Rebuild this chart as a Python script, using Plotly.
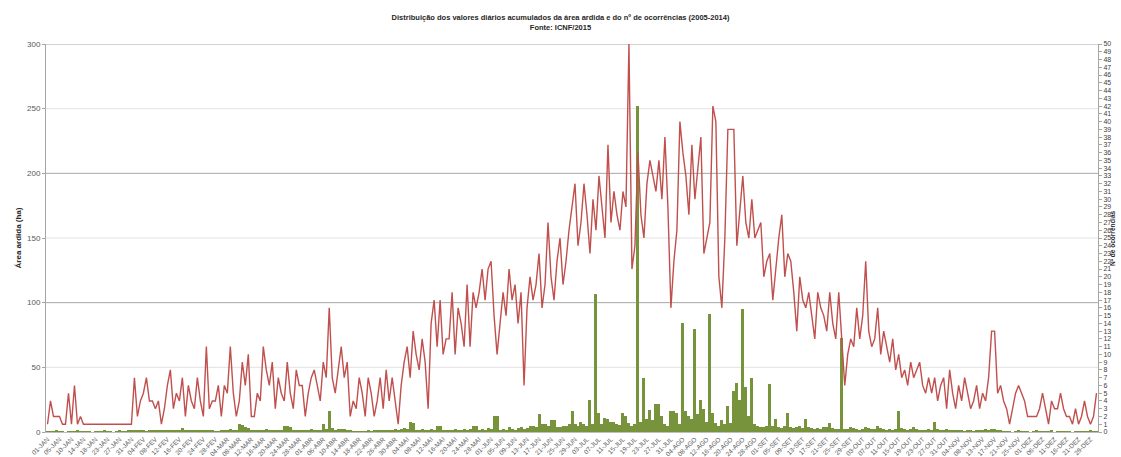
import plotly.graph_objects as go

# Calendar (non-leap year); days without any record are absent from the series
months = ["JAN", "FEV", "MAR", "ABR", "MAI", "JUN", "JUL", "AGO", "SET", "OUT", "NOV", "DEZ"]
month_days = [31, 28, 31, 30, 31, 30, 31, 31, 30, 31, 30, 31]
no_record_days = ["08-JAN", "21-JAN", "03-ABR", "11-NOV", "27-NOV", "29-NOV", "03-DEZ",
                  "09-DEZ", "14-DEZ", "18-DEZ", "22-DEZ", "24-DEZ", "25-DEZ", "27-DEZ"]

days = [f"{d:02d}-{m}" for m, n in zip(months, month_days) for d in range(1, n + 1)
        if f"{d:02d}-{m}" not in no_record_days]

# Accumulated burnt area per day (ha), 2005-2014
area = [
    0.5, 0.6, 0.4, 0.8, 0.5, 0.3, 0, 0.6, 0.7, 0.5, 0.9, 0.6, 0.4, 0.5, 0.7, 0, 0.5, 0.6, 0.4, 0.8,
    0.6, 0.5, 0, 0.7, 0.8, 0.6, 0.5, 0.9, 1.0, 0.8, 1.2, 0.9, 1.1, 0.7, 1.4, 1.0, 0.9, 1.3, 1.1, 0.8,
    1.5, 1.2, 1.8, 1.0, 1.6, 3.0, 1.4, 1.1, 0.9, 1.6, 1.2, 1.0, 1.3, 0.9, 0.8, 1.1, 0.7, 0.6, 1.0, 0.9,
    1.5, 2.0, 1.2, 1.0, 6.0, 5.5, 3.5, 3.0, 1.0, 0.8, 1.2, 0.9, 1.0, 2.0, 1.1, 0.9, 1.3, 1.0, 1.8, 4.5,
    4.5, 4.0, 1.2, 1.0, 1.5, 0.9, 1.3, 1.1, 2.0, 1.6, 1.2, 1.8, 6.0, 2.5, 16.5, 3.0, 1.4, 2.5, 2.0, 2.5,
    1.0, 0.8, 0.5, 0.6, 0.4, 0.5, 0.6, 0.9, 0.7, 1.0, 0.8, 1.1, 0.9, 1.5, 1.2, 1.8, 2.0, 1.6, 2.5, 3.0,
    2.0, 7.5, 7.0, 1.8, 1.5, 2.0, 1.2, 1.8, 2.2, 1.5, 5.0, 5.0, 1.3, 1.0, 1.8, 1.4, 2.2, 1.2, 1.6, 2.5,
    1.5, 2.0, 5.0, 5.0, 1.5, 2.5, 1.8, 3.0, 2.0, 12.0, 12.5, 1.5, 2.5, 1.8, 3.5, 2.0, 1.8, 3.0, 4.0, 2.5,
    3.0, 4.5, 5.0, 3.5, 14.0, 6.0, 6.5, 5.0, 9.0, 9.0, 4.0, 3.5, 5.0, 4.5, 6.0, 16.0, 6.0, 5.0, 8.0, 6.5,
    5.0, 25.0, 6.0, 107.0, 15.0, 6.0, 11.0, 10.0, 8.0, 8.0, 6.0, 5.5, 15.0, 12.0, 7.0, 5.0, 6.0, 252.0, 8.0, 42.0,
    10.0, 17.0, 9.0, 22.0, 22.0, 12.0, 6.0, 5.0, 16.0, 16.0, 15.0, 6.0, 84.0, 16.0, 12.0, 10.0, 80.0, 14.0, 25.0, 18.0,
    8.0, 91.0, 15.0, 7.0, 5.0, 9.0, 6.0, 20.0, 7.0, 32.0, 38.0, 25.0, 95.0, 35.0, 12.0, 42.0, 6.0, 5.0, 4.0, 3.5,
    5.0, 37.0, 5.0, 10.0, 4.0, 3.0, 4.5, 15.0, 4.0, 3.0, 3.5, 5.0, 3.0, 10.0, 4.0, 3.0, 2.5, 3.0, 2.0, 3.5,
    4.0, 7.0, 3.0, 2.0, 2.5, 73.0, 2.0, 2.5, 3.5, 3.0, 2.0, 1.5, 2.5, 3.5, 3.0, 2.0, 2.5, 5.0, 3.0, 2.0,
    1.5, 2.0, 1.8, 2.5, 16.0, 3.0, 2.0, 1.5, 2.0, 4.0, 2.0, 1.5, 1.2, 1.8, 2.0, 1.5, 8.0, 2.5, 1.5, 1.0,
    2.0, 1.2, 1.0, 0.8, 1.2, 0.9, 0.6, 0.8, 1.0, 0.7, 0.9, 1.5, 1.2, 2.0, 1.8, 2.5, 2.0, 1.0, 0.8, 0.6,
    0.7, 0.5, 0, 0.6, 0.8, 0.5, 0.6, 0.4, 0, 0.7, 0.9, 0.5, 0.6, 0.4, 0.5, 0.8, 0, 0.6, 0.5, 0.7,
    0.4, 0.6, 0, 0.5, 0.7, 0.6, 0.4, 0.5, 0.8, 0.6, 0.5,
]

# Accumulated number of occurrences per day, 2005-2014
occurrences = [
    1, 4, 2, 2, 2, 1, 1, 5, 1, 6, 1, 2, 1, 1, 1, 1, 1, 1, 1, 1, 1, 1, 1, 1, 1, 1, 1, 1, 1,
    7, 2, 4, 5, 7, 4, 4, 3, 4, 1, 3, 6, 8, 3, 5, 4, 7, 2, 6, 4,
    3, 7, 4, 2, 11, 3, 4, 4, 6, 2, 6, 5, 11, 5, 2, 4, 9, 6, 10, 2,
    2, 5, 4, 11, 8, 6, 9, 3, 7, 5, 4, 9, 5, 3, 8, 6, 6, 2, 5, 7,
    8, 6, 4, 9, 7, 16, 7, 5, 8, 11, 7, 9, 2, 4, 3, 7, 5, 2, 7, 5,
    2, 4, 7, 3, 8, 4, 7, 4, 1, 6, 9, 11, 7, 13,
    10, 8, 12, 9, 3, 14, 17, 11, 17, 10, 12, 12, 18, 10, 16, 14, 11, 19, 11, 18, 16,
    18, 21, 17, 21, 22, 15, 10, 14, 18, 15, 21, 17, 19, 14, 18, 6, 16, 20, 17, 19, 23, 16, 19, 27, 20, 17, 22, 25, 19, 22,
    26, 29, 32, 24, 27, 32, 28, 23, 30, 26, 33, 29, 25, 37, 27, 31, 28, 26, 31, 29, 50, 21, 24, 36, 28, 25, 32, 35, 33, 31, 35,
    30, 38, 29, 16, 22, 26, 40, 36, 33, 28, 37, 30, 34, 38, 23, 25, 27, 42, 40, 20, 16, 25, 39, 39, 39, 24, 29, 33, 27, 25, 30,
    25, 26, 27, 20, 22, 23, 17, 21, 25, 28, 20, 23, 22, 18, 13, 20, 17, 16, 18, 15, 12, 18, 16, 15, 13, 18, 14, 12, 18, 12,
    6, 10, 12, 11, 16, 12, 15, 22, 13, 11, 12, 16, 10, 13, 11, 9, 12, 8, 10, 7, 8, 6, 9, 7, 8, 9, 6, 5, 7, 5,
    7, 4, 6, 7, 3, 8, 5, 3, 6, 4, 7, 5, 3, 4, 6, 3, 5, 4, 7, 13, 13, 5, 6, 4, 3, 1, 3, 5, 6, 5,
    4, 2, 2, 2, 2, 3, 5, 3, 1, 4, 3, 3, 5, 3, 2, 2, 1, 3, 1, 2, 4, 2, 1, 2, 5,
]

left_ticks = [0, 50, 100, 150, 200, 250, 300]
right_ticks = list(range(0, 51))

font_family = "Liberation Sans Narrow, Liberation Sans, Arial, sans-serif"

fig = go.Figure()
fig.add_trace(go.Bar(x=days, y=area, marker=dict(color="#77933c", line=dict(width=0)),
                     name="Área ardida (ha)"))
fig.add_trace(go.Scatter(x=days, y=occurrences, yaxis="y2", mode="lines",
                         line=dict(color="#c0504d", width=1.4), name="Nº de ocorrências"))

# Horizontal grid: stronger lines every 100 ha, lighter ones in between
for v in left_ticks[1:]:
    fig.add_shape(type="line", xref="paper", yref="y", x0=0, x1=1, y0=v, y1=v,
                  line=dict(color="#a6a6a6" if v % 100 == 0 else "#e2e2e2", width=1),
                  layer="below")

fig.update_layout(
    width=1121, height=457,
    margin=dict(l=46, r=23, t=44, b=25),
    paper_bgcolor="white", plot_bgcolor="white",
    showlegend=False, bargap=0.0,
    font=dict(family=font_family, color="#404040"),
    title=dict(
        text="<b>Distribuição dos valores diários acumulados da área ardida e do nº de ocorrências (2005-2014)</b>"
             "<br><b>Fonte: ICNF/2015</b>",
        x=0.5, xanchor="center", y=0.956, yanchor="middle",
        font=dict(size=7.5, color="#262626", family=font_family),
    ),
    xaxis=dict(
        type="category", range=[-0.5, len(days) - 0.5],
        tickmode="array", tickvals=days[::4], ticktext=days[::4],
        tickangle=-45, tickfont=dict(size=6.5, color="#595959"),
        showgrid=False, showline=True, linecolor="#bfbfbf", ticks="",
        automargin=False,
    ),
    yaxis=dict(
        range=[0, 300], tickvals=left_ticks, showgrid=False, zeroline=False,
        showline=True, linecolor="#a6a6a6", ticks="outside", ticklen=3, tickcolor="#a6a6a6",
        tickfont=dict(size=8, color="#595959"),
        title=dict(text="<b>Área ardida (ha)</b>", font=dict(size=8, color="#262626"), standoff=4),
        automargin=False,
    ),
    yaxis2=dict(
        range=[0, 50], overlaying="y", side="right", tickvals=right_ticks,
        showgrid=False, zeroline=False, showline=True, linecolor="#a6a6a6",
        ticks="outside", ticklen=3, tickcolor="#a6a6a6",
        tickfont=dict(size=7, color="#404040"),
        automargin=False,
    ),
)

# Right-hand axis title, squeezed against the page edge
fig.add_annotation(text="<b>Nº de ocorrências</b>", xref="paper", yref="paper",
                   x=1.0, xshift=19.5, y=0.5, textangle=-90, showarrow=False,
                   font=dict(size=6.5, color="#262626"))

fig.write_html("out.html")
